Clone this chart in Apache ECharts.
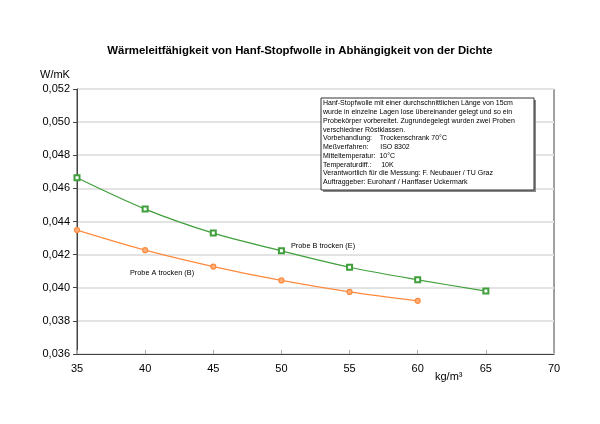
<!DOCTYPE html>
<html>
<head>
<meta charset="utf-8">
<script src="https://cdn.jsdelivr.net/npm/echarts@6/dist/echarts.min.js"></script>
<style>
  html, body { margin: 0; padding: 0; background: #fff; }
  #chart { width: 600px; height: 424px; }
</style>
</head>
<body>
<div id="chart"></div>
<script>
// Dichte in kg/m³
var dichteB = [35, 40, 45, 50, 55, 60, 65]
var dichteA = [35, 40, 45, 50, 55, 60]
// Wärmeleitfähigkeit W/mK
var probeB = [0.04664, 0.04475, 0.0433, 0.04223, 0.04124, 0.04048, 0.0398]
var probeA = [0.04348, 0.04227, 0.04128, 0.04044, 0.03975, 0.03921]

var infoText = [
  'Hanf-Stopfwolle mit einer durchschnittlichen Länge von 15cm',
  'wurde in einzelne Lagen lose übereinander gelegt und so ein',
  'Probekörper vorbereitet. Zugrundegelegt wurden zwei Proben',
  'verschiedner Röstklassen.',
  'Vorbehandlung:    Trockenschrank 70°C',
  'Meßverfahren:      ISO 8302',
  'Mitteltemperatur:  10°C',
  'Temperaturdiff.:     10K',
  'Verantwortlich für die Messung: F. Neubauer / TU Graz',
  'Auftraggeber: Eurohanf / Hanffaser Uckermark'
]

var green = '#3f9f3a'
var orange = '#ff8a3d'
var font = 'Arial, "Liberation Sans", sans-serif'

function pairs(xs, ys) {
  var out = []
  for (var i = 0; i < xs.length; i++) out.push([xs[i], ys[i]])
  return out
}

var chart = echarts.init(document.getElementById('chart'))
chart.setOption({
  animation: false,
  title: {
    text: 'Wärmeleitfähigkeit von Hanf-Stopfwolle in Abhängigkeit von der Dichte',
    left: 'center',
    top: 40,
    textStyle: { fontFamily: font, fontSize: 11.4, fontWeight: 'bold', color: '#000' }
  },
  grid: { left: 77, right: 46, top: 89, bottom: 70, show: true, borderColor: '#444', borderWidth: 1 },
  xAxis: {
    type: 'value', min: 35, max: 70, interval: 5,
    axisLine: { lineStyle: { color: '#444' } },
    axisTick: { show: true, length: 4, inside: true, lineStyle: { color: '#aaa' } },
    axisLabel: { fontFamily: font, fontSize: 11, color: '#000', margin: 9 },
    splitLine: { show: false }
  },
  yAxis: {
    type: 'value', min: 0.036, max: 0.052, interval: 0.002,
    axisLine: { show: true, lineStyle: { color: '#444' } },
    axisTick: { show: true, length: 4, lineStyle: { color: '#444' } },
    axisLabel: {
      fontFamily: font, fontSize: 11, color: '#000', margin: 7,
      formatter: function (v) { return v.toFixed(3).replace('.', ',') }
    },
    splitLine: { lineStyle: { color: '#e3e3e3', width: 2 } }
  },
  series: [
    {
      type: 'line', data: pairs(dichteB, probeB), smooth: 0.3,
      symbol: 'emptyRect', symbolSize: 5,
      lineStyle: { color: green, width: 1.2 },
      itemStyle: { color: green, borderWidth: 1.2 }
    },
    {
      type: 'line', data: pairs(dichteA, probeA), smooth: 0.3,
      symbol: 'circle', symbolSize: 5,
      lineStyle: { color: orange, width: 1.2 },
      itemStyle: { color: '#ffb07a', borderColor: orange, borderWidth: 1.2 }
    }
  ],
  graphic: [
    { type: 'text', left: 40, top: 69, style: { text: 'W/mK', fontFamily: font, fontSize: 11, fill: '#000' } },
    { type: 'text', left: 435, top: 371, style: { text: 'kg/m³', fontFamily: font, fontSize: 11, fill: '#000' } },
    { type: 'text', left: 291, top: 242, style: { text: 'Probe B trocken (E)', fontFamily: font, fontSize: 7.3, fill: '#000' } },
    { type: 'text', left: 130, top: 269, style: { text: 'Probe A trocken (B)', fontFamily: font, fontSize: 7.3, fill: '#000' } },
    { type: 'rect', z: 100, shape: { x: 323, y: 100, width: 213, height: 92 }, style: { fill: '#888' } },
    { type: 'rect', z: 101, shape: { x: 321, y: 98, width: 213, height: 92 }, style: { fill: '#fff', stroke: '#333', lineWidth: 1 } },
    {
      type: 'text', z: 102, left: 323, top: 99,
      style: { text: infoText.join('\n'), fontFamily: font, fontSize: 7, lineHeight: 8.75, fill: '#000' }
    }
  ]
})
</script>
</body>
</html>
